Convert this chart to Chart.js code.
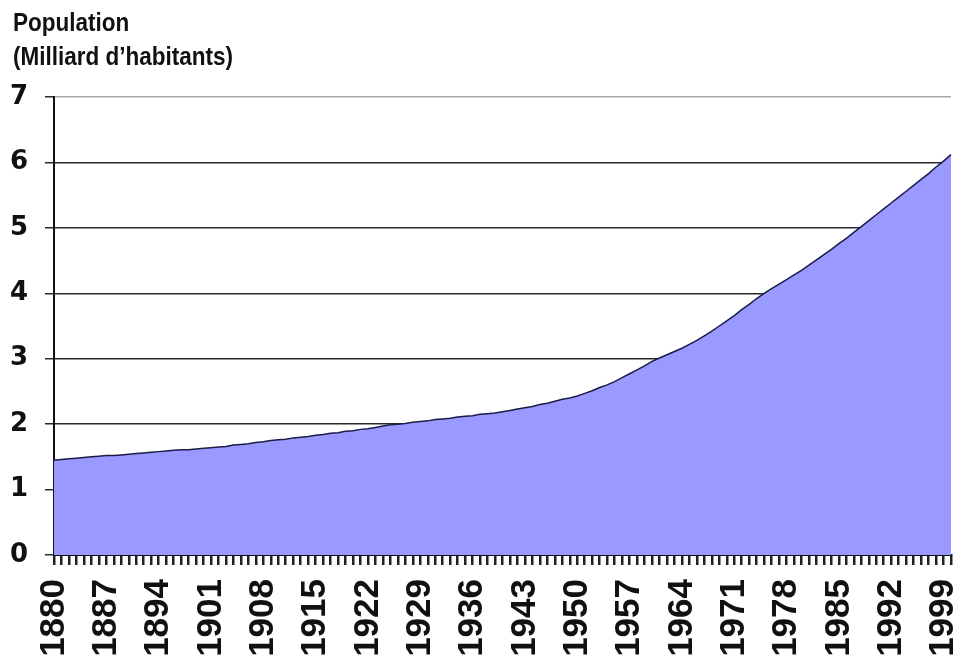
<!DOCTYPE html>
<html>
<head>
<meta charset="utf-8">
<script src="https://cdn.jsdelivr.net/npm/chart.js@4.4.1/dist/chart.umd.min.js"></script>
<style>
  html, body { margin: 0; padding: 0; background: #ffffff; }
  #wrap { width: 953px; height: 664px; position: relative; }
</style>
</head>
<body>
<div id="wrap"><canvas id="popChart"></canvas></div>
<script>
// Population mondiale, une valeur par année (milliards)
const annees = [];
for (let a = 1880; a <= 2000; a++) annees.push(String(a));

const population = [
  1.45, 1.46, 1.47, 1.48, 1.49, 1.50, 1.51, 1.52, 1.52, 1.53, // 1880-1889
  1.54, 1.55, 1.56, 1.57, 1.58, 1.59, 1.60, 1.61, 1.61, 1.62, // 1890-1899
  1.63, 1.64, 1.65, 1.66, 1.68, 1.69, 1.70, 1.72, 1.73, 1.75, // 1900-1909
  1.76, 1.77, 1.79, 1.80, 1.81, 1.83, 1.84, 1.86, 1.87, 1.89, // 1910-1919
  1.90, 1.92, 1.93, 1.95, 1.97, 1.99, 2.00, 2.01, 2.03, 2.04, // 1920-1929
  2.05, 2.07, 2.08, 2.09, 2.11, 2.12, 2.13, 2.15, 2.16, 2.17, // 1930-1939
  2.19, 2.21, 2.23, 2.25, 2.27, 2.30, 2.32, 2.35, 2.38, 2.40, // 1940-1949
  2.43, 2.47, 2.51, 2.56, 2.60, 2.65, 2.71, 2.77, 2.83, 2.89, // 1950-1959
  2.96, 3.01, 3.06, 3.11, 3.16, 3.22, 3.28, 3.35, 3.42, 3.50, // 1960-1969
  3.58, 3.66, 3.75, 3.83, 3.92, 4.00, 4.07, 4.14, 4.21, 4.28, // 1970-1979
  4.35, 4.43, 4.51, 4.59, 4.67, 4.76, 4.84, 4.93, 5.02, 5.11, // 1980-1989
  5.20, 5.29, 5.38, 5.47, 5.56, 5.65, 5.74, 5.83, 5.93, 6.02, // 1990-1999
  6.12                                                        // 2000
];

// une étiquette d'année sur sept
const pasEtiquette = 7;
const titreLignes = ['Population', '(Milliard d\u2019habitants)'];

// titre en haut à gauche, police un peu resserrée
const titrePlugin = {
  id: 'titrePlugin',
  afterDraw(chart) {
    const ctx = chart.ctx;
    ctx.save();
    ctx.fillStyle = '#111';
    ctx.font = 'bold 25px "Liberation Sans", Arial, sans-serif';
    ctx.textBaseline = 'alphabetic';
    ctx.scale(0.9, 1);
    ctx.fillText(titreLignes[0], 13 / 0.9, 31);
    ctx.fillText(titreLignes[1], 13 / 0.9, 65);
    ctx.restore();
  }
};

const ctx = document.getElementById('popChart').getContext('2d');
new Chart(ctx, {
  type: 'line',
  data: {
    labels: annees,
    datasets: [{
      data: population,
      fill: 'origin',
      backgroundColor: '#9999ff',
      borderColor: '#1c1c48',
      borderWidth: 1.5,
      pointRadius: 0,
      tension: 0
    }]
  },
  options: {
    responsive: true,
    maintainAspectRatio: false,
    animation: false,
    layout: { padding: { top: 97, right: 2, left: 0, bottom: 0 } },
    plugins: {
      legend: { display: false },
      tooltip: { enabled: false }
    },
    scales: {
      x: {
        offset: false,
        grid: {
          drawOnChartArea: false,
          drawTicks: true,
          tickLength: 10,
          lineWidth: 2.5,
          color: '#222'
        },
        border: { display: true, color: '#111', width: 2 },
        ticks: {
          autoSkip: false,
          minRotation: 90,
          maxRotation: 90,
          padding: 14,
          color: '#111',
          font: { family: '"Liberation Sans", Arial, sans-serif', size: 35, weight: 'bold' },
          callback: function(val, index) {
            return index % pasEtiquette === 0 ? this.getLabelForValue(val) : '';
          }
        },
        afterFit: function(scale) {
          scale.height = 109;
          scale.paddingLeft = 0;
          scale.paddingRight = 0;
        }
      },
      y: {
        min: 0,
        max: 7,
        grid: {
          drawTicks: true,
          tickLength: 9,
          lineWidth: 1.5,
          color: function(c) { return c.tick && c.tick.value === 7 ? '#a8a8a8' : '#2a2a2a'; },
          tickColor: '#2a2a2a'
        },
        border: { display: true, color: '#111', width: 2 },
        ticks: {
          stepSize: 1,
          padding: 17,
          color: '#111',
          font: { family: '"DejaVu Sans", sans-serif', size: 26, weight: 'bold' }
        },
        afterFit: function(scale) {
          scale.width = 54;
        }
      }
    }
  },
  plugins: [titrePlugin]
});
</script>
</body>
</html>
